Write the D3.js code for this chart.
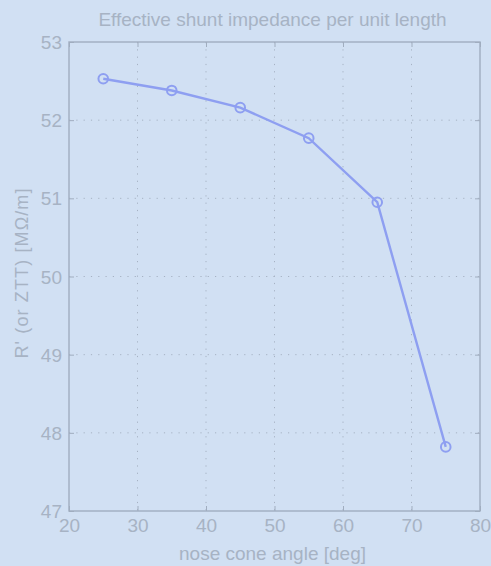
<!DOCTYPE html>
<html>
<head>
<meta charset="utf-8">
<script src="https://cdn.jsdelivr.net/npm/d3@7"></script>
<style>
  html, body { margin: 0; padding: 0; background: #d1e0f3; }
  svg { display: block; }
  text { font-family: "Liberation Sans", Arial, sans-serif; fill: #a7b3c4; }
</style>
</head>
<body>
<svg id="chart" width="491" height="566"></svg>
<script>
// Nose cone angle sweep and resulting shunt impedance
const angles = [25, 35, 45, 55, 65, 75];
const impedance = [52.53, 52.38, 52.16, 51.77, 50.95, 47.82];
const xTicks = [20, 30, 40, 50, 60, 70, 80];
const yTicks = [47, 48, 49, 50, 51, 52, 53];

(function draw() {
  const svg = d3.select("#chart");
  const m = { left: 69, right: 480, top: 42, bottom: 511 };

  const x = d3.scaleLinear().domain([20, 80]).range([m.left, m.right]);
  const y = d3.scaleLinear().domain([47, 53]).range([m.bottom, m.top]);

  const axisColor = "#a0adbf";
  const gridColor = "#a6b2c3";
  const textColor = "#a7b3c4";
  const font = "Liberation Sans, Arial, sans-serif";
  const fs = 19;

  // dotted grid
  const grid = svg.append("g");
  grid.selectAll("line.gx").data(xTicks.slice(1, -1)).join("line")
    .attr("x1", d => x(d)).attr("x2", d => x(d))
    .attr("y1", m.top).attr("y2", m.bottom)
    .attr("stroke", gridColor).attr("stroke-width", 1)
    .attr("stroke-dasharray", "1.2,6.1");
  grid.selectAll("line.gy").data(yTicks.slice(1, -1)).join("line")
    .attr("x1", m.left).attr("x2", m.right)
    .attr("y1", d => y(d)).attr("y2", d => y(d))
    .attr("stroke", gridColor).attr("stroke-width", 1)
    .attr("stroke-dasharray", "1.2,6.1");

  // axes with inward ticks
  const tickLen = 5;
  svg.append("g").attr("transform", `translate(0,${m.bottom})`)
    .call(d3.axisBottom(x).tickValues(xTicks).tickFormat(d3.format("d"))
      .tickSizeInner(-tickLen).tickSizeOuter(0).tickPadding(8))
    .call(g => g.select(".domain").remove())
    .call(g => g.selectAll("line").attr("stroke", axisColor))
    .call(g => g.selectAll("text").attr("font-size", fs).attr("fill", textColor).attr("font-family", font));
  svg.append("g").attr("transform", `translate(0,${m.top})`)
    .call(d3.axisTop(x).tickValues(xTicks).tickSizeInner(-tickLen).tickSizeOuter(0).tickFormat(""))
    .call(g => g.select(".domain").remove())
    .call(g => g.selectAll("line").attr("stroke", axisColor));
  svg.append("g").attr("transform", `translate(${m.left},0)`)
    .call(d3.axisLeft(y).tickValues(yTicks).tickFormat(d3.format("d"))
      .tickSizeInner(-tickLen).tickSizeOuter(0).tickPadding(7))
    .call(g => g.select(".domain").remove())
    .call(g => g.selectAll("line").attr("stroke", axisColor))
    .call(g => g.selectAll("text").attr("font-size", fs).attr("fill", textColor).attr("font-family", font)
      .attr("dy", "0.35em"));
  svg.append("g").attr("transform", `translate(${m.right},0)`)
    .call(d3.axisRight(y).tickValues(yTicks).tickSizeInner(-tickLen).tickSizeOuter(0).tickFormat(""))
    .call(g => g.select(".domain").remove())
    .call(g => g.selectAll("line").attr("stroke", axisColor));

  // frame
  svg.append("rect")
    .attr("x", m.left).attr("y", m.top)
    .attr("width", m.right - m.left).attr("height", m.bottom - m.top)
    .attr("fill", "none").attr("stroke", axisColor).attr("stroke-width", 1.4);

  // data line with circle markers
  const pts = angles.map((a, i) => [a, impedance[i]]);
  const lineColor = "#8e9ff1";
  svg.append("path")
    .datum(pts)
    .attr("d", d3.line().x(d => x(d[0])).y(d => y(d[1])))
    .attr("fill", "none").attr("stroke", lineColor).attr("stroke-width", 2.4);
  svg.selectAll("circle.pt").data(pts).join("circle")
    .attr("cx", d => x(d[0])).attr("cy", d => y(d[1])).attr("r", 4.8)
    .attr("fill", "none").attr("stroke", lineColor).attr("stroke-width", 2);

  // titles
  svg.append("text")
    .attr("x", (m.left + m.right) / 2 - 2).attr("y", 26)
    .attr("text-anchor", "middle").attr("font-size", fs)
    .text("Effective shunt impedance per unit length");
  svg.append("text")
    .attr("x", (m.left + m.right) / 2 - 2).attr("y", 560)
    .attr("text-anchor", "middle").attr("font-size", fs)
    .text("nose cone angle [deg]");
  svg.append("text")
    .attr("transform", `translate(28,${(m.top + m.bottom) / 2 - 3}) rotate(-90)`)
    .attr("text-anchor", "middle").attr("font-size", 18)
    .attr("textLength", 170).attr("lengthAdjust", "spacing")
    .text("R' (or ZTT) [MΩ/m]");
})();
</script>
</body>
</html>
